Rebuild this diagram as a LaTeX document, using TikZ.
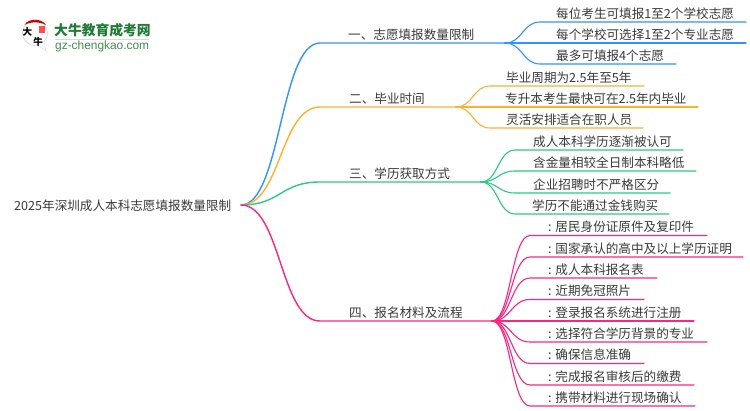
\documentclass[tikz,border=0pt]{standalone}
\usepackage{fontspec}
\usetikzlibrary{calc}
\setmainfont{Noto Sans CJK SC}
\newfontfamily\latinbrand{Liberation Sans}
\definecolor{cblue}{HTML}{2E96FA}
\definecolor{corange}{HTML}{FFB02E}
\definecolor{cgreen}{HTML}{2ACB83}
\definecolor{cpink}{HTML}{FF2480}
\definecolor{ctext}{HTML}{3A3A3A}
\definecolor{brand}{HTML}{1E7B34}
\tikzset{
  x=1pt,y=-1pt,
  lbl/.style={inner sep=0pt,anchor=base west,text=ctext,font=\fontsize{12.6}{14}\selectfont},
  wire/.style={line width=1.4pt,line cap=round},
  sub/.style={line width=1.1pt,line cap=round}
}
\begin{document}
\begin{tikzpicture}
\useasboundingbox (0,0) rectangle (750,410);
\fill[white] (0,0) rectangle (750,410);
% logo
\draw[gray!35,line width=0.6pt,fill=white] (35,33) circle (12.5);
\fill[gray!25] (47,52) -- (38,45.5) -- (44,43) -- cycle;
\fill[white] (45,50) -- (38,44.5) -- (44,42) -- cycle;
\fill[red!80!black] (24.5,25) .. controls (28,18) and (42,18) .. (46,25) .. controls (40,21.5) and (30,21.5) .. (24.5,25) -- cycle;
\fill[red!70!white] (39,26) rectangle (45,33);
\node[inner sep=0pt,text=black,font=\fontsize{9.5}{10}\selectfont\bfseries] (logoa) at (27.5,32) {大};
\node[inner sep=0pt,text=black,font=\fontsize{9.5}{10}\selectfont\bfseries] (logob) at (38,42) {牛};
\node[inner sep=0pt,anchor=base west,text=brand,font=\fontsize{13.8}{14}\selectfont\bfseries] (brandcn) at (54,35.5) {大牛教育成考网};
\draw[gray!30,line width=0.5pt] (55,39) -- (149,39);
\node[inner sep=0pt,anchor=base west,text=brand!85,font=\latinbrand\fontsize{11.9}{12}\selectfont] (brandurl) at (55,49) {gz-chengkao.com};
% root
\node[lbl] (root) at (14,210.5) {2025年深圳成人本科志愿填报数量限制};
\coordinate (r) at (241,205);
% branch labels
\node[lbl] (t1) at (348,39) {一、志愿填报数量限制};
\node[lbl] (t2) at (349,103.5) {二、毕业时间};
\node[lbl] (t3) at (349,178) {三、学历获取方式};
\node[lbl] (t4) at (349,317) {四、报名材料及流程};
% branch coordinates
\coordinate (b1) at (320,43);  \coordinate (f1) at (505,43);
\coordinate (b2) at (320,107); \coordinate (f2) at (456,107);
\coordinate (b3) at (320,182); \coordinate (f3) at (481,182);
\coordinate (b4) at (320,321); \coordinate (f4) at (492,321);
\draw[wire,cblue] (r) .. controls (281,205) and (280,43) .. (b1) -- (f1);
\draw[wire,corange] (r) .. controls (281,205) and (280,107) .. (b2) -- (f2);
\draw[wire,cgreen] (r) .. controls (281,205) and (280,182) .. (b3) -- (f3);
\draw[wire,cpink] (r) .. controls (281,205) and (280,321) .. (b4) -- (f4);
% leaves
\foreach \id/\fk/\col/\sx/\yy/\ex/\tx/\txt in {
 a1/f1/cblue/540/22/746/556/每位考生可填报1至2个学校志愿,
 a2/f1/cblue/540/43/746/556/每个学校可选择1至2个专业志愿,
 a3/f1/cblue/540/64/676/556/最多可填报4个志愿,
 c1/f2/corange/490/86/644/506/毕业周期为2.5年至5年,
 c2/f2/corange/490/107/698/505/专升本考生最快可在2.5年内毕业,
 c3/f2/corange/490/128/643/506/灵活安排适合在职人员,
 d1/f3/cgreen/515/150/683/533/成人本科学历逐渐被认可,
 d2/f3/cgreen/515/171/696/533/含金量相较全日制本科略低,
 d3/f3/cgreen/515/193/670/533/企业招聘时不严格区分,
 d4/f3/cgreen/515/214/669/532/学历不能通过金钱购买,
 e1/f4/cpink/530/235.5/707/548/: 居民身份证原件及复印件,
 e2/f4/cpink/530/257/743/548/: 国家承认的高中及以上学历证明,
 e3/f4/cpink/530/278/657/548/: 成人本科报名表,
 e4/f4/cpink/530/299.5/644/548/: 近期免冠照片,
 e5/f4/cpink/530/321/694/548/: 登录报名系统进行注册,
 e6/f4/cpink/530/342/707/548/: 选择符合学历背景的专业,
 e7/f4/cpink/530/363.5/644/548/: 确保信息准确,
 e8/f4/cpink/530/385/694/548/: 完成报名审核后的缴费,
 e9/f4/cpink/530/406/695/548/: 携带材料进行现场确认}{
  \coordinate (\id s) at (\sx,\yy);
  \coordinate (\id e) at (\ex,\yy);
  \coordinate (\id m) at ($(\fk)!0.5!(\id s)$);
  \draw[sub,\col] (\fk) .. controls (\id m |- \fk) and (\id m |- \id s) .. (\id s) -- (\id e);
  \node[lbl] (\id) at (\tx,\yy-4) {\txt};
}
\end{tikzpicture}
\end{document}
